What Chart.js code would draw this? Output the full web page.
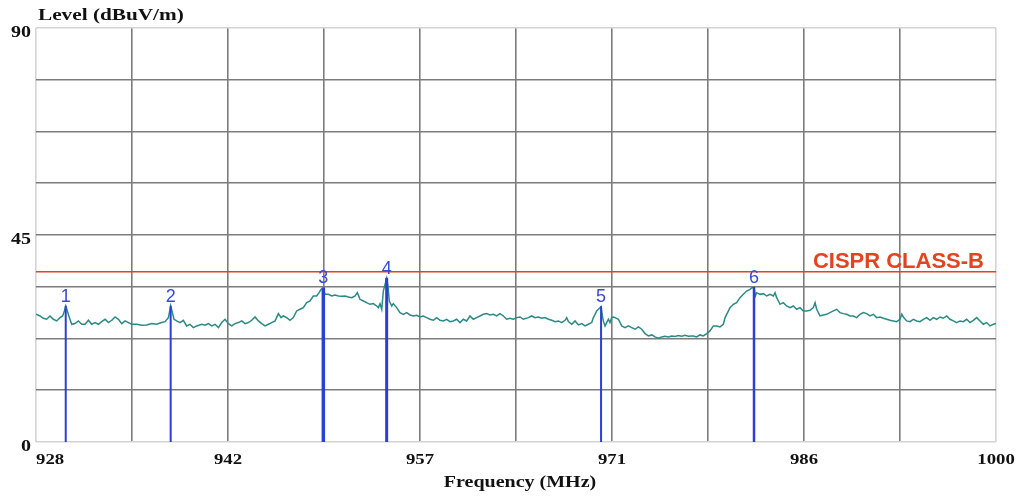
<!DOCTYPE html>
<html>
<head>
<meta charset="utf-8">
<title>Radiated emission scan</title>
<script src="https://cdn.jsdelivr.net/npm/chart.js"></script>
<style>
  html, body { margin: 0; padding: 0; background: #fff; }
  #scan { display: block; }
</style>
</head>
<body>
<canvas id="scan" width="1021" height="496"></canvas>
<script>
// measured trace, frequency in MHz and level in dBuV/m
const freqs = [
  928.0, 928.3, 928.55, 928.8, 929.05, 929.3, 929.55, 929.8, 930.0, 930.13, 930.23, 930.35, 930.5, 930.68, 930.93,
  931.18, 931.43, 931.68, 931.93, 932.18, 932.43, 932.68, 932.93, 933.18, 933.43, 933.68, 933.93, 934.18, 934.43,
  934.68, 934.93, 935.18, 935.55, 935.93, 936.3, 936.68, 937.05, 937.43, 937.68, 937.93, 938.03, 938.1, 938.2,
  938.35, 938.55, 938.8, 939.05, 939.3, 939.55, 939.8, 940.05,
  940.43, 940.68, 940.93, 941.18, 941.43, 941.68, 941.93, 942.18, 942.43, 942.68, 942.93, 943.18, 943.43, 943.68,
  943.93, 944.18, 944.43, 944.68, 944.93, 945.18, 945.43, 945.68, 945.93, 946.18, 946.38, 946.55, 946.8, 947.05,
  947.3, 947.55, 947.8, 948.05, 948.3, 948.55, 948.8, 949.05, 949.23, 949.38, 949.55, 949.68, 949.93, 950.18,
  950.43, 950.68, 950.93, 951.18, 951.43, 951.68, 951.93, 952.1,
  952.3, 952.55, 952.8, 953.05, 953.3, 953.55, 953.68, 953.8, 953.93, 954.05, 954.18, 954.3, 954.38, 954.5,
  954.68, 954.8, 955.05, 955.3, 955.55, 955.8, 956.05, 956.3, 956.55, 956.8, 957.05, 957.3, 957.55, 957.8,
  958.05, 958.3, 958.55, 958.8, 959.05, 959.3, 959.55, 959.8, 960.05, 960.3, 960.55, 960.8, 961.05, 961.3,
  961.55, 961.8, 962.05, 962.3, 962.55, 962.8, 963.05, 963.3, 963.55, 963.8, 964.05, 964.3, 964.55,
  964.93, 965.18, 965.43, 965.68, 965.93, 966.18, 966.43, 966.68, 966.93, 967.18, 967.43, 967.68, 967.8, 967.93,
  968.18, 968.43, 968.68, 968.93, 969.18, 969.43, 969.68, 969.8, 969.93, 970.05, 970.18, 970.38, 970.48, 970.55,
  970.68, 970.8, 970.93, 971.05, 971.18, 971.3, 971.43, 971.68, 971.93, 972.18, 972.43, 972.68, 972.93, 973.18,
  973.43, 973.68, 973.93, 974.18, 974.43, 974.68, 974.93, 975.18, 975.43, 975.68, 975.93, 976.18, 976.43, 976.68,
  976.93, 977.18,
  977.3, 977.55, 977.8, 978.05, 978.3, 978.55, 978.8, 979.05, 979.3, 979.55, 979.68, 979.8, 979.93, 980.05,
  980.3, 980.55, 980.8, 981.05, 981.3, 981.55, 981.7, 981.85, 981.95, 982.05, 982.3, 982.55, 982.8, 983.05,
  983.3, 983.43, 983.55, 983.68, 983.8, 984.05, 984.3, 984.55, 984.8, 985.05, 985.3, 985.55, 985.8, 986.05,
  986.3, 986.43, 986.55, 986.8, 987.05, 987.3, 987.55, 987.8, 988.05, 988.3, 988.55, 988.8, 989.05,
  989.3, 989.55, 989.8, 990.05, 990.3, 990.55, 990.8, 991.05, 991.3, 991.55, 991.8, 992.05, 992.3, 992.55,
  992.8, 992.93, 993.05, 993.3, 993.55, 993.8, 994.05, 994.3, 994.55, 994.8, 995.05, 995.3, 995.55, 995.8,
  996.05, 996.3, 996.55, 996.8, 997.05, 997.3, 997.55, 997.8, 998.05, 998.3, 998.55, 998.8, 999.05, 999.3,
  999.55, 999.8, 1000
];
const levels = [
  27.76, 27.40, 26.90, 26.68, 27.40, 26.68, 26.32, 27.04, 27.40, 28.49, 29.57, 28.49, 27.04, 25.59, 25.74,
  26.32, 25.59, 25.59, 26.46, 25.59, 25.96, 25.59, 26.17, 26.68, 25.96, 26.46, 27.18, 26.68, 25.74,
  26.32, 25.96, 25.59, 25.59, 25.38, 25.45, 25.74, 25.59, 25.96, 26.17, 27.04, 28.49, 29.57, 28.49,
  26.68, 26.32, 25.96, 26.46, 25.23, 25.59, 24.87, 25.23,
  25.59, 25.38, 25.74, 25.23, 25.59, 24.87, 25.96, 26.68, 25.74, 25.23, 25.74, 25.96, 26.32, 25.74,
  25.96, 26.46, 27.18, 26.32, 25.74, 25.23, 25.59, 25.96, 26.32, 27.91, 27.04, 27.40, 27.04, 26.46,
  27.04, 28.49, 28.85, 29.21, 30.29, 30.66, 31.74, 31.74, 32.46, 33.19, 33.40, 32.10, 32.10, 31.74,
  31.96, 31.74, 31.67, 31.74, 31.52, 31.38, 31.74, 32.46,
  31.02, 30.66, 30.29, 29.93, 30.08, 29.57, 29.21, 30.08, 28.85, 32.82, 34.27, 35.60, 34.27, 30.66,
  29.57, 30.08, 29.21, 28.12, 27.76, 28.12, 27.62, 27.40, 27.55, 27.18, 27.40, 27.04, 26.68, 26.46,
  27.04, 26.46, 26.32, 26.68, 26.17, 26.32, 26.68, 25.96, 26.68, 26.32, 27.40, 26.68, 27.04, 27.40,
  27.76, 27.91, 27.62, 27.76, 27.40, 27.91, 27.40, 26.68, 26.90, 26.68, 27.04, 27.18, 26.68,
  27.04, 27.40, 27.04, 27.18, 26.90, 27.04, 26.68, 26.46, 26.17, 26.32, 25.96, 26.46, 27.04, 26.17,
  25.59, 26.32, 25.45, 25.74, 25.23, 25.59, 25.96, 27.04, 27.76, 28.49, 28.85, 29.45, 27.40, 26.32,
  25.23, 25.96, 26.68, 25.96, 27.04, 27.18, 27.04, 26.68, 25.23, 24.87, 25.23, 24.87, 24.51, 25.02,
  24.51, 23.57, 23.06, 23.28, 22.85, 22.56, 22.85, 22.99, 22.85, 23.06, 22.92, 23.14, 22.99, 23.21,
  22.99, 23.06,
  23.06, 22.85, 23.28, 23.06, 23.57, 24.15, 25.23, 25.23, 25.02, 25.59, 27.04, 27.76, 28.49, 29.21,
  29.93, 30.29, 31.38, 32.10, 32.82, 33.19, 33.55, 33.60, 31.74, 32.46, 32.10, 32.25, 31.74, 32.10,
  31.74, 32.46, 31.38, 30.66, 29.93, 30.29, 29.57, 29.21, 29.57, 28.85, 29.21, 28.49, 28.49, 28.63,
  29.21, 30.29, 28.85, 27.40, 27.62, 27.76, 28.12, 28.49, 28.85, 28.12, 27.91, 27.76, 27.40,
  27.40, 27.04, 27.76, 28.12, 27.91, 27.40, 27.76, 27.04, 27.18, 26.90, 26.68, 26.46, 26.32, 26.17,
  26.68, 27.76, 27.18, 26.32, 26.17, 26.68, 26.32, 26.17, 26.68, 27.04, 26.46, 27.04, 26.68, 27.18,
  26.90, 27.40, 26.68, 26.32, 25.96, 26.32, 26.17, 26.68, 25.96, 26.46, 27.04, 26.32, 25.59, 25.96,
  25.23, 25.59, 25.74
];

// peak markers
const markerLabels = ['1', '2', '3', '4', '5', '6'];
const markerFreqs = [930.23, 938.1, 949.55, 954.3, 970.38, 981.85];
const markerLevels = [29.6, 29.6, 33.6, 35.7, 29.5, 33.7];

// limit line
const limitLabel = 'CISPR CLASS-B';
const limitLevel = 37;

// axis labels
const xTickValues = [928, 942.4, 956.8, 971.2, 985.6, 1000];
const xTickLabels = ['928', '942', '957', '971', '986', '1000'];
const yTickValues = [0, 45, 90];
const yTickLabels = ['0', '45', '90'];

const markerWidths = [2, 2, 3.5, 3, 2, 2.5];

const trace = freqs.map((f, i) => ({ x: f, y: levels[i] }));

const markerSets = markerFreqs.map((f, i) => ({
  data: [{ x: f, y: 0 }, { x: f, y: markerLevels[i] }],
  borderColor: '#2c3ed6',
  borderWidth: markerWidths[i],
  pointRadius: 0,
  order: 0
}));

function gridColor(lo, hi) {
  return c => (Math.abs(c.tick.value - lo) < 1e-6 || Math.abs(c.tick.value - hi) < 1e-6) ? '#d4d4d4' : '#7c7c7c';
}

// serif labels are drawn a bit wider than the font's natural width
function wideText(ctx, text, x, y, align) {
  ctx.save();
  ctx.translate(x, y);
  ctx.scale(1.25, 1);
  ctx.textAlign = align;
  ctx.fillText(text, 0, 0);
  ctx.restore();
}

const labelsPlugin = {
  id: 'labels',
  afterDatasetsDraw(chart) {
    const { ctx, chartArea, scales: { x, y } } = chart;
    ctx.save();

    ctx.font = '18px "Liberation Sans", Arial, sans-serif';
    ctx.fillStyle = '#3a4ad0';
    ctx.textAlign = 'center';
    ctx.textBaseline = 'alphabetic';
    markerLabels.forEach((t, i) => {
      ctx.fillText(t, x.getPixelForValue(markerFreqs[i]), y.getPixelForValue(markerLevels[i]) - 4);
    });

    ctx.font = 'bold 22px "Liberation Sans", Arial, sans-serif';
    ctx.fillStyle = '#e2441f';
    ctx.textAlign = 'right';
    ctx.fillText(limitLabel, chartArea.right - 12, y.getPixelForValue(limitLevel) - 4);

    ctx.fillStyle = '#111';
    ctx.font = 'bold 16px "Liberation Serif", "Times New Roman", serif';
    ctx.textBaseline = 'middle';
    yTickValues.forEach((v, i) => {
      wideText(ctx, yTickLabels[i], chartArea.left - 5, y.getPixelForValue(v) + 5, 'right');
    });

    ctx.font = 'bold 15px "Liberation Serif", "Times New Roman", serif';
    ctx.textBaseline = 'top';
    xTickValues.forEach((v, i) => {
      wideText(ctx, xTickLabels[i], x.getPixelForValue(v), chartArea.bottom + 11, i === 0 ? 'left' : 'center');
    });

    ctx.textBaseline = 'alphabetic';
    ctx.font = 'bold 17px "Liberation Serif", "Times New Roman", serif';
    wideText(ctx, 'Level (dBuV/m)', 38, 20, 'left');
    ctx.font = 'bold 16px "Liberation Serif", "Times New Roman", serif';
    wideText(ctx, 'Frequency (MHz)', (chartArea.left + chartArea.right) / 2 + 4, 487, 'center');

    ctx.restore();
  }
};

const ctx = document.getElementById('scan').getContext('2d');

const scanChart = new Chart(ctx, {
  type: 'line',
  data: {
    datasets: [
      ...markerSets,
      {
        data: trace,
        borderColor: '#2a8a84',
        borderWidth: 1.5,
        pointRadius: 0,
        tension: 0,
        order: 1
      },
      {
        data: [{ x: 928, y: limitLevel }, { x: 1000, y: limitLevel }],
        borderColor: '#e2441f',
        borderWidth: 1.6,
        pointRadius: 0,
        order: 2
      }
    ]
  },
  options: {
    responsive: false,
    animation: false,
    events: [],
    layout: { padding: { left: 36, right: 25, top: 28, bottom: 54 } },
    plugins: {
      legend: { display: false },
      tooltip: { enabled: false }
    },
    scales: {
      x: {
        type: 'linear',
        min: 928,
        max: 1000,
        ticks: { stepSize: 7.2, display: false },
        grid: { color: gridColor(928, 1000), lineWidth: 1.6, drawTicks: false },
        border: { display: false },
        afterFit(scale) { scale.height = 0; }
      },
      y: {
        type: 'linear',
        min: 0,
        max: 90,
        ticks: { stepSize: 11.25, display: false },
        grid: { color: gridColor(0, 90), lineWidth: 1.6, drawTicks: false },
        border: { display: false },
        afterFit(scale) { scale.width = 0; }
      }
    }
  },
  plugins: [labelsPlugin]
});
</script>
</body>
</html>
